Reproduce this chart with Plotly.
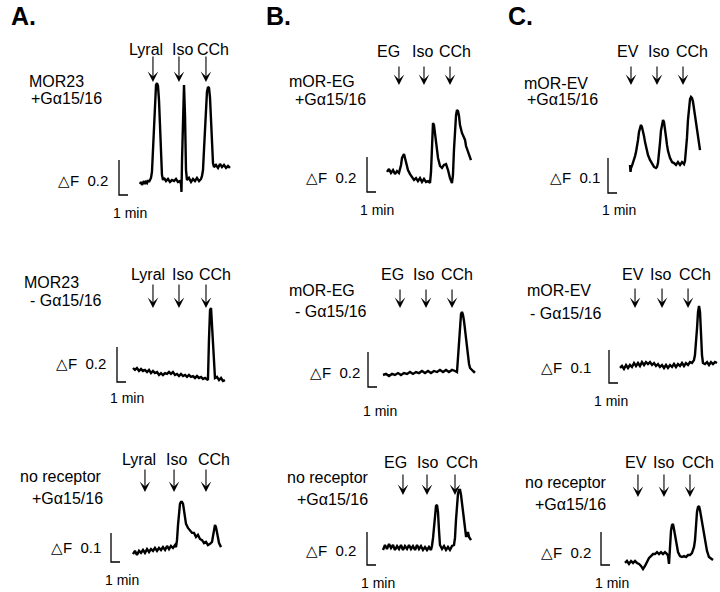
import plotly.graph_objects as go

# ---------------- DATA (time in min, dF) ----------------
A1_T = [0, 0.11, 0.22, 0.33, 0.44, 0.56, 0.67, 0.78, 0.89, 1.0,
        1.11, 1.22, 1.33, 1.44, 1.56, 1.67, 1.78, 1.89, 2.0, 2.11,
        2.22, 2.33, 2.44, 2.56, 2.67, 2.89, 3.11, 3.33, 3.56, 3.78,
        4.0, 4.22, 4.44, 4.56, 4.61, 4.67, 4.78, 4.89, 5.0, 5.11,
        5.22, 5.44, 5.67, 5.89, 6.11, 6.33, 6.56, 6.78, 6.89, 7.0,
        7.11, 7.22, 7.33, 7.44, 7.56, 7.67, 7.78, 7.89, 8.0, 8.11,
        8.22, 8.44, 8.67, 8.89, 9.11, 9.33, 9.56, 9.78, 10.0]
A1_F = [-0.006, 0.006, -0.011, 0, 0.011, -0.006, 0.006, 0, 0.017, 0.006,
        0.023, 0.029, 0.063, 0.189, 0.389, 0.503, 0.56, 0.571, 0.554, 0.474,
        0.303, 0.131, 0.046, 0.017, 0.029, 0.011, 0.023, 0.006, 0.017, 0.011,
        0.023, 0.006, 0.011, -0.006, -0.051, 0.131, 0.474, 0.56, 0.389, 0.074,
        0.017, 0.029, 0.006, 0.023, 0.011, 0.029, 0.011, 0.023, 0.04, 0.074,
        0.189, 0.331, 0.446, 0.52, 0.549, 0.543, 0.486, 0.36, 0.189, 0.114,
        0.091, 0.103, 0.086, 0.109, 0.091, 0.103, 0.086, 0.097, 0.086]

A2_T = [0, 0.22, 0.44, 0.67, 0.89, 1.11, 1.33, 1.56, 1.78, 2.0,
        2.22, 2.44, 2.67, 2.89, 3.11, 3.33, 3.56, 3.78, 4.0, 4.22,
        4.44, 4.67, 4.89, 5.11, 5.33, 5.56, 5.78, 6.0, 6.22, 6.44,
        6.67, 6.89, 7.11, 7.33, 7.56, 7.78, 8.0, 8.22, 8.33, 8.44,
        8.56, 8.67, 8.78, 8.89, 9.0, 9.11, 9.33, 9.56, 9.78, 10.0,
        10.22]
A2_F = [0.04, 0.029, 0.04, 0.023, 0.034, 0.023, 0.029, 0.017, 0.029, 0.011,
        0.023, 0.011, 0.017, 0, 0.011, 0, 0.011, 0.006, 0.017, 0.006,
        0.017, 0, 0.006, -0.006, 0.006, -0.006, 0, -0.011, 0, -0.011,
        -0.006, -0.017, -0.006, -0.017, -0.011, -0.023, -0.017, -0.023, -0.029, 0.2,
        0.371, 0.383, 0.274, 0.143, 0.04, -0.017, -0.011, -0.029, -0.017, -0.034,
        -0.029]

A3_T = [0, 0.22, 0.44, 0.67, 0.89, 1.11, 1.33, 1.56, 1.78, 2.0,
        2.22, 2.44, 2.67, 2.89, 3.11, 3.33, 3.56, 3.78, 4.0, 4.22,
        4.44, 4.67, 4.78, 4.89, 5.0, 5.11, 5.22, 5.33, 5.44, 5.56,
        5.67, 5.78, 5.89, 6.11, 6.33, 6.56, 6.78, 7.0, 7.22, 7.44,
        7.67, 7.89, 8.11, 8.33, 8.56, 8.78, 8.89, 9.0, 9.11, 9.22,
        9.33, 9.44, 9.56, 9.78]
A3_F = [-0.014, -0.003, -0.017, -0.003, -0.01, 0, -0.01, 0.003, -0.007, 0.003,
        -0.003, 0.007, -0.003, 0.007, 0, 0.01, 0, 0.014, 0.003, 0.014,
        0.007, 0.017, 0.01, 0.034, 0.086, 0.138, 0.159, 0.166, 0.166, 0.159,
        0.131, 0.103, 0.09, 0.076, 0.069, 0.059, 0.059, 0.045, 0.052, 0.038,
        0.034, 0.024, 0.028, 0.017, 0.021, 0.028, 0.048, 0.076, 0.086, 0.079,
        0.062, 0.041, 0.024, 0.01]

B1_T = [0, 0.22, 0.44, 0.67, 0.89, 1.11, 1.33, 1.44, 1.56, 1.67,
        1.78, 1.89, 2.0, 2.11, 2.22, 2.33, 2.56, 2.78, 3.0, 3.22,
        3.44, 3.67, 3.89, 4.11, 4.33, 4.56, 4.78, 4.89, 5.0, 5.11,
        5.22, 5.33, 5.44, 5.56, 5.67, 5.89, 6.11, 6.33, 6.56, 6.78,
        7.0, 7.22, 7.33, 7.44, 7.56, 7.67, 7.78, 7.89, 8.0, 8.11,
        8.33, 8.56, 8.67, 8.78, 8.89, 9.0, 9.11, 9.22, 9.33]
B1_F = [0.046, 0.063, 0.04, 0.057, 0.034, 0.051, 0.04, 0.057, 0.086, 0.126,
        0.143, 0.149, 0.126, 0.103, 0.08, 0.057, 0.034, 0.017, 0, 0.011,
        -0.006, 0.011, -0.011, 0.006, -0.011, -0.006, -0.017, 0.046, 0.229, 0.326,
        0.314, 0.269, 0.211, 0.171, 0.126, 0.08, 0.069, 0.086, 0.091, 0.057,
        0.011, -0.017, 0.029, 0.171, 0.286, 0.371, 0.4, 0.394, 0.366, 0.314,
        0.269, 0.24, 0.229, 0.194, 0.177, 0.154, 0.143, 0.12, 0.114]

B2_T = [0, 0.33, 0.67, 1.0, 1.33, 1.67, 2.0, 2.33, 2.67, 3.0,
        3.33, 3.67, 4.0, 4.33, 4.67, 5.0, 5.33, 5.67, 6.0, 6.33,
        6.67, 7.0, 7.33, 7.67, 8.0, 8.22, 8.33, 8.44, 8.56, 8.67,
        8.78, 8.89, 9.0, 9.11, 9.22, 9.33, 9.44, 9.56, 9.67, 9.89,
        10.11, 10.22]
B2_F = [0, 0.006, -0.006, 0.006, 0, 0.011, 0, 0.011, 0.006, 0.017,
        0.006, 0.017, 0.011, 0.023, 0.011, 0.023, 0.011, 0.023, 0.017, 0.029,
        0.017, 0.029, 0.017, 0.029, 0.023, 0.017, 0.097, 0.2, 0.303, 0.349,
        0.36, 0.343, 0.309, 0.257, 0.2, 0.143, 0.097, 0.063, 0.04, 0.029,
        0.017, 0.023]

B3_T = [0, 0.22, 0.44, 0.67, 0.89, 1.11, 1.33, 1.56, 1.78, 2.0,
        2.22, 2.44, 2.67, 2.89, 3.11, 3.33, 3.56, 3.78, 4.0, 4.22,
        4.44, 4.67, 4.89, 5.11, 5.33, 5.44, 5.56, 5.67, 5.78, 5.89,
        6.0, 6.11, 6.22, 6.33, 6.56, 6.78, 7.0, 7.22, 7.44, 7.67,
        7.89, 8.0, 8.11, 8.22, 8.33, 8.44, 8.56, 8.67, 8.78, 8.89,
        9.0, 9.11, 9.22, 9.33, 9.44, 9.56, 9.67, 9.78]
B3_F = [-0.012, 0.018, -0.006, 0.024, 0, 0.018, -0.012, 0.012, -0.006, 0.018,
        -0.012, 0.012, -0.006, 0.018, -0.006, 0.012, -0.012, 0.018, -0.006, 0.012,
        -0.012, 0.006, -0.012, 0.006, -0.012, 0.012, 0.061, 0.139, 0.212, 0.255,
        0.261, 0.218, 0.109, 0.018, -0.006, 0.012, -0.012, 0.006, -0.012, 0.012,
        0.018, 0.061, 0.17, 0.273, 0.327, 0.352, 0.352, 0.321, 0.273, 0.212,
        0.158, 0.109, 0.073, 0.073, 0.097, 0.067, 0.055, 0.048]

C1_T = [0, 0.06, 0.11, 0.22, 0.33, 0.44, 0.56, 0.67, 0.78, 0.89,
        1.0, 1.11, 1.22, 1.33, 1.44, 1.56, 1.67, 1.78, 1.89, 2.0,
        2.22, 2.44, 2.67, 2.89, 3.0, 3.11, 3.22, 3.33, 3.44, 3.56,
        3.67, 3.78, 3.89, 4.0, 4.11, 4.22, 4.44, 4.67, 4.89, 5.11,
        5.33, 5.56, 5.78, 6.0, 6.11, 6.22, 6.33, 6.44, 6.56, 6.67,
        6.78, 6.89, 7.0, 7.11, 7.22, 7.33, 7.44, 7.56, 7.67, 7.78]
C1_F = [0.009, -0.011, 0, 0.006, 0.014, 0.023, 0.034, 0.046, 0.06, 0.08,
        0.103, 0.117, 0.123, 0.117, 0.106, 0.091, 0.074, 0.06, 0.049, 0.037,
        0.023, 0.011, 0.003, 0, 0.003, 0.014, 0.037, 0.071, 0.106, 0.131,
        0.137, 0.131, 0.114, 0.089, 0.066, 0.049, 0.029, 0.017, 0.014, 0.009,
        0.017, 0.009, 0.017, 0.011, 0.02, 0.046, 0.086, 0.137, 0.177, 0.197,
        0.203, 0.2, 0.189, 0.169, 0.149, 0.126, 0.103, 0.083, 0.066, 0.051]

C2_T = [0, 0.22, 0.44, 0.67, 0.89, 1.11, 1.33, 1.56, 1.78, 2.0,
        2.22, 2.44, 2.67, 2.89, 3.11, 3.33, 3.56, 3.78, 4.0, 4.22,
        4.44, 4.67, 4.89, 5.11, 5.33, 5.56, 5.78, 6.0, 6.22, 6.44,
        6.67, 6.89, 7.11, 7.33, 7.56, 7.78, 8.0, 8.22, 8.33, 8.44,
        8.56, 8.67, 8.78, 8.89, 9.0, 9.11, 9.22, 9.44, 9.67, 9.89,
        10.11, 10.33, 10.56, 10.78]
C2_F = [-0.009, -0.003, -0.012, 0, -0.009, 0, -0.006, 0.006, -0.003, 0.006,
        -0.003, 0.009, 0, 0.009, 0.003, 0.009, 0, 0.006, -0.003, 0.003,
        -0.006, 0, -0.009, 0, -0.009, 0, -0.006, 0.003, -0.006, 0.003,
        -0.003, 0.006, -0.003, 0.006, 0, 0.009, 0.006, 0.015, 0.03, 0.061,
        0.112, 0.161, 0.179, 0.161, 0.091, 0.03, 0.006, 0.003, 0.009, 0,
        0.009, 0.003, 0.009, 0.006]

C3_T = [0, 0.22, 0.44, 0.67, 0.89, 1.11, 1.33, 1.56, 1.78, 2.0,
        2.22, 2.44, 2.67, 2.89, 3.11, 3.33, 3.56, 3.78, 4.0, 4.22,
        4.44, 4.67, 4.78, 4.89, 5.0, 5.11, 5.22, 5.33, 5.44, 5.56,
        5.67, 5.78, 5.89, 6.11, 6.33, 6.56, 6.78, 7.0, 7.22, 7.44,
        7.67, 7.78, 7.89, 8.0, 8.11, 8.22, 8.33, 8.44, 8.56, 8.67,
        8.89, 9.11, 9.33, 9.56, 9.78]
C3_F = [-0.018, -0.006, -0.024, -0.006, -0.018, -0.006, -0.018, -0.024, -0.036, -0.055,
        -0.036, -0.012, 0.012, 0.024, 0.036, 0.036, 0.048, 0.036, 0.048, 0.036,
        0.048, 0.036, 0.024, -0.024, 0.103, 0.176, 0.212, 0.218, 0.188, 0.145,
        0.103, 0.073, 0.048, 0.024, 0.018, 0.024, 0.018, 0.03, 0.03, 0.042,
        0.079, 0.121, 0.212, 0.291, 0.321, 0.327, 0.303, 0.267, 0.224, 0.176,
        0.109, 0.055, 0.018, 0.006, 0]

# stimulus times (min)
A1_STIM = [1.44, 4.33, 7.33]
A2_STIM = [2.22, 5.11, 8.11]
A3_STIM = [1.33, 4.56, 8.11]
B1_STIM = [1.33, 4.11, 7.0]
B2_STIM = [1.89, 4.78, 7.67]
B3_STIM = [2.22, 4.89, 8.0]
C1_STIM = [0.11, 3.0, 5.89]
C2_STIM = [1.67, 4.67, 7.56]
C3_STIM = [1.44, 4.33, 7.22]

A_STIM_LABELS = ["Lyral", "Iso", "CCh"]
B_STIM_LABELS = ["EG", "Iso", "CCh"]
C_STIM_LABELS = ["EV", "Iso", "CCh"]

A_CONDITIONS = [["MOR23", "+Gα15/16"], ["MOR23", "- Gα15/16"], ["no receptor", "+Gα15/16"]]
B_CONDITIONS = [["mOR-EG", "+Gα15/16"], ["mOR-EG", "- Gα15/16"], ["no receptor", "+Gα15/16"]]
C_CONDITIONS = [["mOR-EV", "+Gα15/16"], ["mOR-EV", "- Gα15/16"], ["no receptor", "+Gα15/16"]]

DF_SCALE = [0.2, 0.2, 0.1, 0.2, 0.2, 0.2, 0.1, 0.1, 0.2]   # A1,A2,A3,B1,B2,B3,C1,C2,C3
TIME_SCALE = 1.0   # min
PANEL_LETTERS = ["A.", "B.", "C."]

# ---------------- LAYOUT ----------------
W, H = 720, 592
KX = 9.0  # px per minute
FONT = "Liberation Sans, Arial, Helvetica, sans-serif"


def px(x):
    return x / W


def py(y):
    return 1 - y / H


traces = [(A1_T, A1_F), (A2_T, A2_F), (A3_T, A3_F), (B1_T, B1_F), (B2_T, B2_F),
          (B3_T, B3_F), (C1_T, C1_F), (C2_T, C2_F), (C3_T, C3_F)]
stims = [A1_STIM, A2_STIM, A3_STIM, B1_STIM, B2_STIM, B3_STIM, C1_STIM, C2_STIM, C3_STIM]
stim_labels = [A_STIM_LABELS] * 3 + [B_STIM_LABELS] * 3 + [C_STIM_LABELS] * 3
conditions = A_CONDITIONS + B_CONDITIONS + C_CONDITIONS

# geometry (window pixels): x0,y0 = origin of trace; ky = px per dF; bar = (x, bottom y)
geo = [
    dict(x0=140, y0=183, ky=175, bar=(119, 195), box=(95, 240, 70, 205),
         lab=[146, 182, 213], laby=50, arr=(55, 82), cond=[(27, 81), (29, 99)],
         df=(110, 180), minl=(130, 213)),
    dict(x0=133, y0=375, ky=175, bar=(117, 382), box=(95, 240, 295, 392),
         lab=[148, 182, 215], laby=274, arr=(283, 308), cond=[(22, 282), (28, 300)],
         df=(108, 363), minl=(127, 398)),
    dict(x0=133, y0=550, ky=290, bar=(111, 562), box=(95, 240, 480, 572),
         lab=[139, 176, 214], laby=459, arr=(468, 492), cond=[(18, 476), (30, 498)],
         df=(103, 547), minl=(122, 580)),
    dict(x0=387, y0=180, ky=175, bar=(367, 192), box=(350, 485, 70, 205),
         lab=[388, 422, 455], laby=52, arr=(65, 85), cond=[(287, 82), (293, 100)],
         df=(358, 177), minl=(377, 210)),
    dict(x0=383, y0=375, ky=175, bar=(368, 387), box=(350, 485, 295, 392),
         lab=[393, 423, 457], laby=274, arr=(288, 308), cond=[(287, 290), (293, 311)],
         df=(362, 372), minl=(380, 411)),
    dict(x0=383, y0=548, ky=165, bar=(367, 565), box=(350, 485, 480, 572),
         lab=[395, 427, 462], laby=462, arr=(473, 495), cond=[(285, 477), (295, 499)],
         df=(358, 550), minl=(378, 583)),
    dict(x0=630, y0=168, ky=350, bar=(608, 193), box=(590, 720, 70, 205),
         lab=[628, 658, 692], laby=52, arr=(65, 85), cond=[(522, 83), (525, 100)],
         df=(602, 177), minl=(619, 210)),
    dict(x0=620, y0=365, ky=330, bar=(609, 383), box=(590, 720, 295, 392),
         lab=[633, 660, 695], laby=274, arr=(287, 308), cond=[(525, 290), (528, 313)],
         df=(593, 367), minl=(611, 401)),
    dict(x0=625, y0=560, ky=165, bar=(601, 565), box=(590, 720, 480, 572),
         lab=[636, 663, 698], laby=462, arr=(473, 497), cond=[(523, 482), (533, 504)],
         df=(593, 552), minl=(612, 583)),
]

fig = go.Figure()
annotations = []
layout_axes = {}

for i, ((t, f), g) in enumerate(zip(traces, geo)):
    assert len(t) == len(f), (i, len(t), len(f))
    k = i + 1
    xa = "x" if k == 1 else f"x{k}"
    ya = "y" if k == 1 else f"y{k}"
    bx0, bx1, by0, by1 = g["box"]
    xr = [(bx0 - g["x0"]) / KX, (bx1 - g["x0"]) / KX]
    yr = [(g["y0"] - by1) / g["ky"], (g["y0"] - by0) / g["ky"]]
    layout_axes["xaxis" if k == 1 else f"xaxis{k}"] = dict(
        domain=[px(bx0), px(bx1)], range=xr, visible=False, anchor=ya, fixedrange=True)
    layout_axes["yaxis" if k == 1 else f"yaxis{k}"] = dict(
        domain=[py(by1), py(by0)], range=yr, visible=False, anchor=xa, fixedrange=True)

    fig.add_trace(go.Scatter(x=t, y=f, xaxis=xa, yaxis=ya, mode="lines",
                             line=dict(color="black", width=2.4), hoverinfo="skip",
                             showlegend=False))
    # scale bar
    tb = (g["bar"][0] - g["x0"]) / KX
    fb = (g["y0"] - g["bar"][1]) / g["ky"]
    fig.add_trace(go.Scatter(x=[tb, tb, tb + TIME_SCALE], y=[fb + DF_SCALE[i], fb, fb],
                             xaxis=xa, yaxis=ya, mode="lines",
                             line=dict(color="black", width=1.3), hoverinfo="skip",
                             showlegend=False))
    # arrows and stimulus labels
    top, tip = g["arr"]
    for s, lab, lx in zip(stims[i], stim_labels[i], g["lab"]):
        annotations.append(dict(x=s, xref=xa, y=py(tip), yref="paper", text="",
                                showarrow=True, ax=0, ay=-(tip - top), arrowhead=3,
                                arrowsize=1.6, arrowwidth=1.1, arrowcolor="black"))
        annotations.append(dict(x=px(lx), y=py(g["laby"]), xref="paper", yref="paper",
                                text=lab, showarrow=False, xanchor="center",
                                yanchor="middle", font=dict(size=16, color="black", family=FONT)))
    # condition labels
    for (cx, cy), txt in zip(g["cond"], conditions[i]):
        annotations.append(dict(x=px(cx), y=py(cy), xref="paper", yref="paper", text=txt,
                                showarrow=False, xanchor="left", yanchor="middle",
                                font=dict(size=16, color="black", family=FONT)))
    # dF label
    annotations.append(dict(x=px(g["df"][0]), y=py(g["df"][1]), xref="paper", yref="paper",
                            text=f"△F  {DF_SCALE[i]:g}", showarrow=False, xanchor="right",
                            yanchor="middle", font=dict(size=15, color="black", family=FONT)))
    # time label
    annotations.append(dict(x=px(g["minl"][0]), y=py(g["minl"][1]), xref="paper", yref="paper",
                            text=f"{TIME_SCALE:g} min", showarrow=False, xanchor="center",
                            yanchor="middle", font=dict(size=14, color="black", family=FONT)))

for letter, lx in zip(PANEL_LETTERS, [9, 264, 506]):
    annotations.append(dict(x=px(lx), y=py(16), xref="paper", yref="paper",
                            text=f"<b>{letter}</b>", showarrow=False, xanchor="left",
                            yanchor="middle", font=dict(size=25, color="black", family=FONT)))

fig.update_layout(width=W, height=H, margin=dict(l=0, r=0, t=0, b=0),
                  paper_bgcolor="white", plot_bgcolor="rgba(0,0,0,0)",
                  annotations=annotations, showlegend=False, **layout_axes)

# remove the default 8px body margin so the figure sits at the window origin
fig.write_html("out.html", config={"displayModeBar": False, "staticPlot": True},
               post_script="document.body.style.margin='0';")
